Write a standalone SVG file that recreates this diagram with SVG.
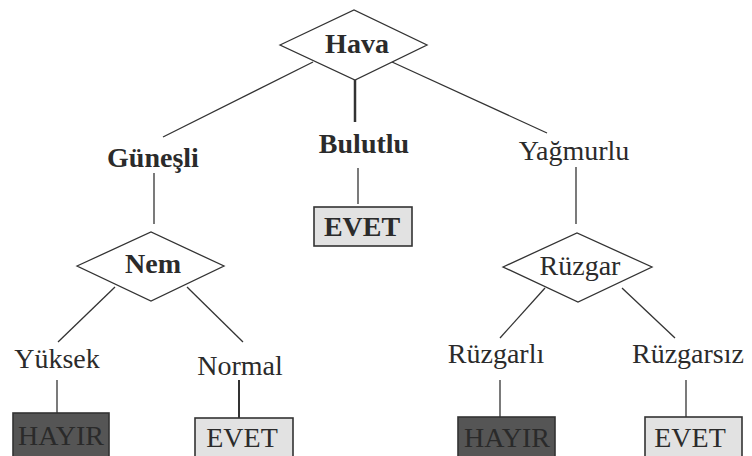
<svg xmlns="http://www.w3.org/2000/svg" width="752" height="456" viewBox="0 0 752 456" font-family="'Liberation Serif', 'DejaVu Serif', serif">
<style>
text{font-family:'Liberation Serif','DejaVu Serif',serif;font-size:28px;fill:#2b2b2b;text-anchor:middle}
.b{font-weight:bold}
.dia{fill:#fff;stroke:#333;stroke-width:1.3}
.yes{fill:#e2e2e2;stroke:#333;stroke-width:1.6}
.no rect{fill:#555;stroke:#333;stroke-width:1.6}
.no text{fill:#2a2a2a}
#edges line{stroke:#333;stroke-width:1.3}
</style>
<rect width="752" height="456" fill="#fff"/>
<g id="edges">
<line x1="313" y1="62" x2="163" y2="137"/>
<line x1="355" y1="80" x2="355" y2="122" style="stroke-width:2.5"/>
<line x1="392" y1="62" x2="547" y2="133"/>
<line x1="154" y1="173" x2="154" y2="224"/>
<line x1="358" y1="168" x2="358" y2="204"/>
<line x1="576" y1="167" x2="576" y2="224"/>
<line x1="115" y1="287" x2="58" y2="342"/>
<line x1="187" y1="287" x2="243" y2="342"/>
<line x1="57" y1="380" x2="57" y2="413"/>
<line x1="239" y1="380" x2="239" y2="418" style="stroke-width:2"/>
<line x1="545" y1="288" x2="500" y2="338"/>
<line x1="622" y1="288" x2="675" y2="338"/>
<line x1="500" y1="380" x2="500" y2="417"/>
<line x1="686" y1="380" x2="686" y2="417"/>
</g>
<g id="hava"><polygon class="dia" points="280,45 354,10 427,45 355,80"/><text class="b" x="357" y="53">Hava</text></g>
<g id="gunesli"><text class="b" x="153" y="167">Güneşli</text></g>
<g id="bulutlu"><text class="b" x="364" y="153">Bulutlu</text></g>
<g id="yagmurlu"><text x="574" y="160">Yağmurlu</text></g>
<g id="evet-bulutlu"><rect class="yes" x="314" y="207" width="98" height="39"/><text class="b" x="362" y="236">EVET</text></g>
<g id="nem"><polygon class="dia" points="77,266 151,232 224,266 151,301"/><text class="b" x="153" y="273">Nem</text></g>
<g id="ruzgar"><polygon class="dia" points="503,267 577,233 652,267 578,302"/><text x="580" y="275">Rüzgar</text></g>
<g id="yuksek"><text x="57" y="368">Yüksek</text></g>
<g id="normal"><text x="240" y="375">Normal</text></g>
<g id="ruzgarli"><text x="496" y="363">Rüzgarlı</text></g>
<g id="ruzgarsiz"><text x="688" y="363">Rüzgarsız</text></g>
<g id="hayir-yuksek" class="no"><rect x="13" y="413" width="96" height="45"/><text x="61" y="445">HAYIR</text></g>
<g id="evet-normal"><rect class="yes" x="195" y="418" width="98" height="40"/><text x="242" y="447">EVET</text></g>
<g id="hayir-ruzgarli" class="no"><rect x="458" y="417" width="97" height="41"/><text x="507" y="447">HAYIR</text></g>
<g id="evet-ruzgarsiz"><rect class="yes" x="645" y="417" width="97" height="41"/><text x="690" y="447">EVET</text></g>
</svg>
